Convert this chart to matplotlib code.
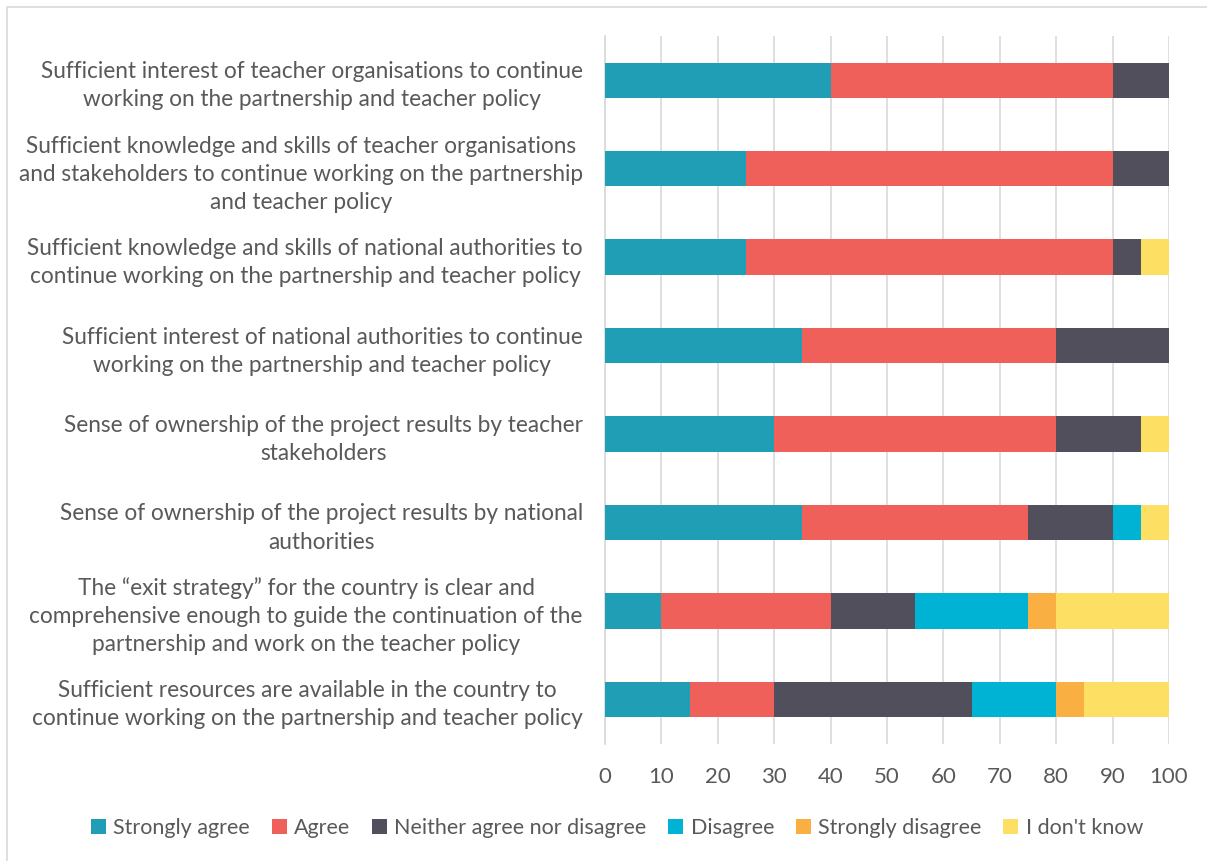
import matplotlib
matplotlib.use("Agg")
import matplotlib.pyplot as plt
from matplotlib.patches import Rectangle
import numpy as np

plt.rcParams["font.family"] = ["Lato", "DejaVu Sans"]

categories = [
    "Sufficient interest of teacher organisations to continue\nworking on the partnership and teacher policy",
    "Sufficient knowledge and skills of teacher organisations\nand stakeholders to continue working on the partnership\nand teacher policy",
    "Sufficient knowledge and skills of national authorities to\ncontinue working on the partnership and teacher policy",
    "Sufficient interest of national authorities to continue\nworking on the partnership and teacher policy",
    "Sense of ownership of the project results by teacher\nstakeholders",
    "Sense of ownership of the project results by national\nauthorities",
    "The \u201cexit strategy\u201d for the country is clear and\ncomprehensive enough to guide the continuation of the\npartnership and work on the teacher policy",
    "Sufficient resources are available in the country to\ncontinue working on the partnership and teacher policy",
]
series_names = ["Strongly agree", "Agree", "Neither agree nor disagree",
                "Disagree", "Strongly disagree", "I don't know"]
strongly_agree = [40, 25, 25, 35, 30, 35, 10, 15]
agree = [50, 65, 65, 45, 50, 40, 30, 15]
neither = [10, 10, 5, 20, 15, 15, 15, 35]
disagree = [0, 0, 0, 0, 0, 5, 20, 15]
strongly_disagree = [0, 0, 0, 0, 0, 0, 5, 5]
dont_know = [0, 0, 5, 0, 5, 5, 20, 15]
colors = ["#1f9eb5", "#f0605a", "#524f5c", "#00b3d4", "#f9af42", "#fddf63"]

TXT = "#595959"

fig = plt.figure(figsize=(12.07, 8.61), dpi=100)
W, H = 1207, 861
ax = fig.add_axes([605 / W, 1 - 743.5 / H, (1169 - 605) / W, (743.5 - 36) / H])

# outer chart border (light grey)
fig.patches.append(Rectangle((7 / W, -0.1), 1.2, 1 - 7 / H + 0.1,
                             transform=fig.transFigure, fill=False,
                             edgecolor="#d9d9d9", lw=1.2))

y = np.arange(len(categories))
left = np.zeros(len(categories))
for name, vals, c in zip(series_names,
                         [strongly_agree, agree, neither, disagree,
                          strongly_disagree, dont_know], colors):
    vals = np.array(vals, dtype=float)
    ax.barh(y, vals, left=left, height=0.4, color=c, label=name, zorder=3)
    left += vals

ax.set_ylim(len(categories) - 0.5, -0.5)
ax.set_xlim(0, 100)
ax.set_xticks(np.arange(0, 101, 10))
ax.set_yticks(y)
ax.set_yticklabels(categories, ha="right", multialignment="center",
                   fontsize=16.3, color=TXT, linespacing=1.42)
ax.tick_params(axis="y", length=0, pad=16)
ax.tick_params(axis="x", length=0, pad=17, labelsize=16, labelcolor=TXT)
ax.xaxis.grid(True, color="#d9d9d9", lw=1.2, zorder=0)
for s in ["top", "right", "bottom"]:
    ax.spines[s].set_visible(False)
ax.spines["left"].set_color("#d9d9d9")
ax.spines["left"].set_linewidth(1.2)

leg = fig.legend(loc="center", bbox_to_anchor=(617 / W, 1 - 828 / H), ncol=6,
                 frameon=False, fontsize=15.5, handlelength=0.7,
                 handleheight=0.7, handletextpad=0.35, columnspacing=1.0)
for t in leg.get_texts():
    t.set_color(TXT)

fig.savefig("out.png", dpi=100)
